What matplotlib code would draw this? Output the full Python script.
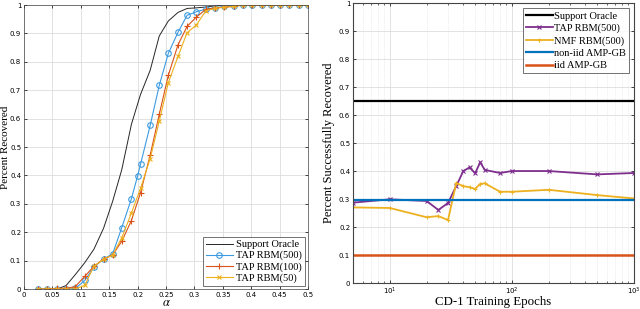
import matplotlib.pyplot as plt

# left panel: recovery vs alpha
alpha = [0.025, 0.041, 0.058, 0.074, 0.090, 0.107, 0.123, 0.140, 0.156, 0.172,
         0.189, 0.205, 0.222, 0.238, 0.254, 0.271, 0.287, 0.303, 0.320, 0.336,
         0.352, 0.369, 0.385, 0.402, 0.418, 0.435, 0.451, 0.467, 0.484, 0.500]
oracle = [0, 0, 0.0, 0.012, 0.05, 0.093, 0.14, 0.214, 0.309, 0.42,
          0.58, 0.685, 0.77, 0.891, 0.944, 0.974, 0.988, 0.99, 0.993, 0.997,
          1, 1, 1, 1, 1, 1, 1, 1, 1, 1]
alpha_500 = [0.025, 0.041, 0.058, 0.074, 0.090, 0.107, 0.123, 0.140, 0.156, 0.172,
             0.189, 0.200, 0.205, 0.222, 0.238, 0.254, 0.271, 0.287, 0.303, 0.320,
             0.336, 0.352, 0.369, 0.385, 0.402, 0.418, 0.435, 0.451, 0.467, 0.484, 0.500]
tap500 = [0, 0, 0, 0, 0.002, 0.03, 0.078, 0.105, 0.124, 0.216,
          0.318, 0.399, 0.439, 0.576, 0.717, 0.830, 0.904, 0.964, 0.976, 0.986,
          0.99, 0.995, 0.998, 1, 1, 1, 1, 1, 1, 1, 1]
tap100 = [0, 0, 0.002, 0.003, 0.008, 0.045, 0.08, 0.105, 0.12, 0.168,
          0.241, 0.339, 0.471, 0.615, 0.753, 0.860, 0.925, 0.957, 0.985, 0.99,
          0.993, 0.995, 1, 1, 1, 1, 1, 1, 1, 1]
tap50 = [0, 0, 0, 0, 0, 0.013, 0.08, 0.105, 0.12, 0.18,
         0.268, 0.354, 0.459, 0.591, 0.727, 0.819, 0.903, 0.929, 0.98, 0.988,
         0.992, 0.995, 1, 1, 1, 1, 1, 1, 1, 1]
alpha_ticks = [0, 0.05, 0.1, 0.15, 0.2, 0.25, 0.3, 0.35, 0.4, 0.45, 0.5]
alpha_labels = ['0', '0.05', '0.1', '0.15', '0.2', '0.25', '0.3', '0.35',
                '0.4', '0.45', '0.5']
y_ticks = [0, 0.1, 0.2, 0.3, 0.4, 0.5, 0.6, 0.7, 0.8, 0.9, 1]
y_labels = ['0', '0.1', '0.2', '0.3', '0.4', '0.5', '0.6', '0.7', '0.8',
            '0.9', '1']

# right panel: recovery vs training epochs
epochs = [5, 10, 20, 25, 30, 35, 40, 45, 50, 55, 60, 80, 100, 200, 500, 1000]
tap_rbm500 = [0.287, 0.299, 0.293, 0.261, 0.286, 0.346, 0.400, 0.413, 0.392, 0.431,
              0.404, 0.393, 0.400, 0.400, 0.388, 0.393]
nmf_rbm500 = [0.270, 0.268, 0.235, 0.239, 0.225, 0.357, 0.346, 0.342, 0.336, 0.354,
              0.356, 0.326, 0.326, 0.333, 0.314, 0.302]
oracle_level = 0.65
noniid_level = 0.297
iid_level = 0.10

blue = '#0072BD'
orange = '#D95319'
yellow = '#EDB120'
purple = '#7E2F8E'
serif = 'Liberation Serif'

plt.rcParams['font.family'] = 'DejaVu Sans'
plt.rcParams['mathtext.fontset'] = 'stix'
plt.rcParams['xtick.direction'] = 'in'
plt.rcParams['ytick.direction'] = 'in'

fig = plt.figure(figsize=(6.4, 3.09), dpi=100)

ax1 = fig.add_axes([0.0375, 0.0647, 0.444, 0.919])
ax1.plot(alpha, oracle, color='#262626', lw=0.7, label='Support Oracle')
ax1.plot(alpha_500, tap500, color='#3C9BE0', lw=0.8, marker='o', ms=4,
         mfc='none', mew=0.8, label='TAP RBM(500)')
ax1.plot(alpha, tap100, color=orange, lw=0.8, marker='+', ms=4, mew=0.8,
         label='TAP RBM(100)')
ax1.plot(alpha, tap50, color=yellow, lw=0.8, marker='x', ms=3, mew=0.8,
         label='TAP RBM(50)')
ax1.set_xlim(0, 0.5)
ax1.set_ylim(0, 1)
ax1.set_xticks(alpha_ticks, alpha_labels)
ax1.set_yticks(y_ticks, y_labels)
ax1.tick_params(labelsize=5, length=2.5, width=0.5, top=True, right=True, pad=2)
ax1.grid(True, color='#dddddd', lw=0.6)
ax1.set_xlabel(r'$\alpha$', fontsize=9)
ax1.xaxis.set_label_coords(0.5, -0.026)
ax1.set_ylabel('Percent Recovered', family=serif, fontsize=8)
ax1.yaxis.set_label_coords(-0.05, 0.5)
for s in ax1.spines.values():
    s.set_linewidth(0.5)
    s.set_color('#444444')
leg1 = ax1.legend(loc='lower right', prop={'family': serif, 'size': 7.5},
                  fancybox=False, edgecolor='#333333', borderpad=0.3,
                  labelspacing=0.15, handlelength=2.6, handletextpad=0.3,
                  borderaxespad=0.3)
leg1.get_frame().set_linewidth(0.6)

ax2 = fig.add_axes([0.5516, 0.0841, 0.439, 0.906])
ax2.axhline(oracle_level, color='black', lw=1.6, label='Support Oracle')
ax2.plot(epochs, tap_rbm500, color=purple, lw=1.3, marker='x', ms=3, mew=0.8,
         label='TAP RBM(500)')
ax2.plot(epochs, nmf_rbm500, color=yellow, lw=1.3, marker='+', ms=3.5, mew=0.8,
         label='NMF RBM(500)')
ax2.axhline(noniid_level, color=blue, lw=1.6, label='non-iid AMP-GB')
ax2.axhline(iid_level, color=orange, lw=1.8, label='iid AMP-GB')
ax2.set_xscale('log')
ax2.set_xlim(5, 1000)
ax2.set_ylim(0, 1)
ax2.set_yticks(y_ticks, y_labels)
ax2.tick_params(labelsize=5, length=2.5, width=0.5, top=True, right=True, pad=2)
ax2.tick_params(which='minor', length=1.5, width=0.4, top=True, right=True)
ax2.grid(True, which='major', color='#dddddd', lw=0.6)
ax2.grid(True, which='minor', color='#dddddd', lw=0.5, ls=':')
ax2.set_xlabel('CD-1 Training Epochs', family=serif, fontsize=9.3)
ax2.xaxis.set_label_coords(0.5, -0.048)
ax2.set_ylabel('Percent Successfully Recovered', family=serif, fontsize=9)
ax2.yaxis.set_label_coords(-0.064, 0.5)
for s in ax2.spines.values():
    s.set_linewidth(0.8)
    s.set_color('#444444')
leg2 = ax2.legend(loc='upper right', prop={'family': serif, 'size': 7.5},
                  fancybox=False, edgecolor='#333333', borderpad=0.3,
                  labelspacing=0.28, handlelength=2.6, handletextpad=0.1,
                  borderaxespad=0.5)
leg2.get_frame().set_linewidth(0.6)

fig.savefig('out.png', dpi=100)
